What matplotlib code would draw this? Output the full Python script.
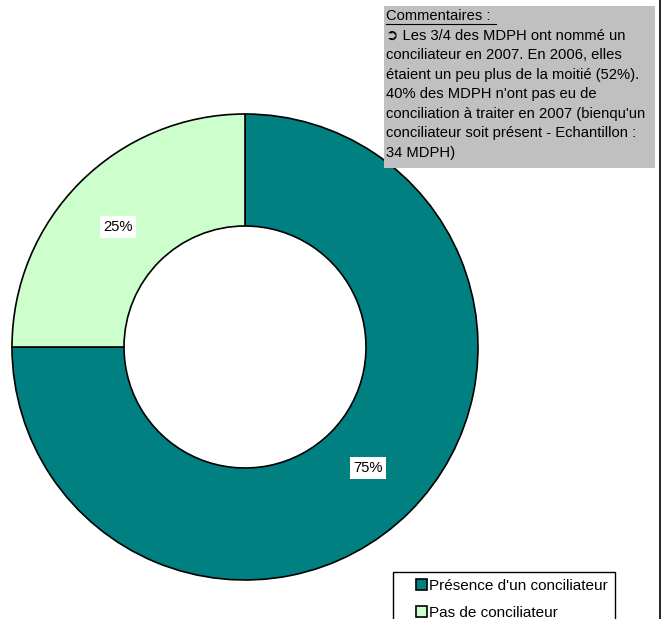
import matplotlib.pyplot as plt
from matplotlib.patches import Rectangle

categories = ["Présence d'un conciliateur", "Pas de conciliateur"]
values = [75, 25]
colors = ["#008080", "#CCFFCC"]
comment_title = "Commentaires :"
comment_lines = [
    "\u27b2 Les 3/4 des MDPH ont nommé un",
    "conciliateur en 2007. En 2006, elles",
    "étaient un peu plus de la moitié (52%).",
    "40% des MDPH n'ont pas eu de",
    "conciliation à traiter en 2007 (bienqu'un",
    "conciliateur soit présent - Echantillon :",
    "34 MDPH)",
]

plt.rcParams['font.family'] = ['Liberation Sans', 'DejaVu Sans']

W, H = 666, 619
fig = plt.figure(figsize=(W / 100, H / 100), dpi=100)
ax = fig.add_axes([0, 0, 1, 1])

# donut, pixel coordinates (y flipped)
cx, cy, r, r_in = 245, H - 347, 233, 121
wedges, _ = ax.pie(values, colors=colors, startangle=90, counterclock=False,
                   center=(cx, cy), radius=r,
                   wedgeprops=dict(width=r - r_in, edgecolor="black", linewidth=1.2))

# percentage labels
label_pos = [(368, H - 468), (118, H - 227)]
for v, (x, y) in zip(values, label_pos):
    ax.text(x, y, f"{v}%", ha="center", va="center", fontsize=10.6,
            bbox=dict(facecolor="white", edgecolor="none", pad=2.5))

# comment box
ax.add_patch(Rectangle((384, H - 168), 655 - 384, 162, facecolor="#C0C0C0",
                       edgecolor="none", zorder=3))
ax.text(386, H - 16, comment_title, fontsize=10.6, va="center", zorder=4)
ax.plot([386, 496], [H - 24, H - 24], color="black", lw=0.8, zorder=4)
for i, line in enumerate(comment_lines):
    ax.text(386, H - 35.5 - i * 19.6, line, fontsize=10.6, va="center", zorder=4)

# chart border on the right
ax.plot([660, 660], [0, H], color="black", lw=1.2)

# legend frame (runs off the bottom of the picture)
ax.add_patch(Rectangle((393, -20), 615 - 393, H - 572 + 20, facecolor="white",
                       edgecolor="black", lw=1.0, zorder=3))

ax.set_xlim(0, W)
ax.set_ylim(0, H)
ax.set_aspect("auto")
ax.axis("off")

leg = fig.legend(wedges, categories, loc="upper left",
                 bbox_to_anchor=(411 / W, 1 - 574 / H), fontsize=11,
                 frameon=False,
                 handlelength=0.75, handleheight=0.75, handletextpad=0.15,
                 borderpad=0.3, labelspacing=0.85, borderaxespad=0)
for h in leg.legend_handles:
    h.set_edgecolor("black")

fig.savefig("out.png", dpi=100)
